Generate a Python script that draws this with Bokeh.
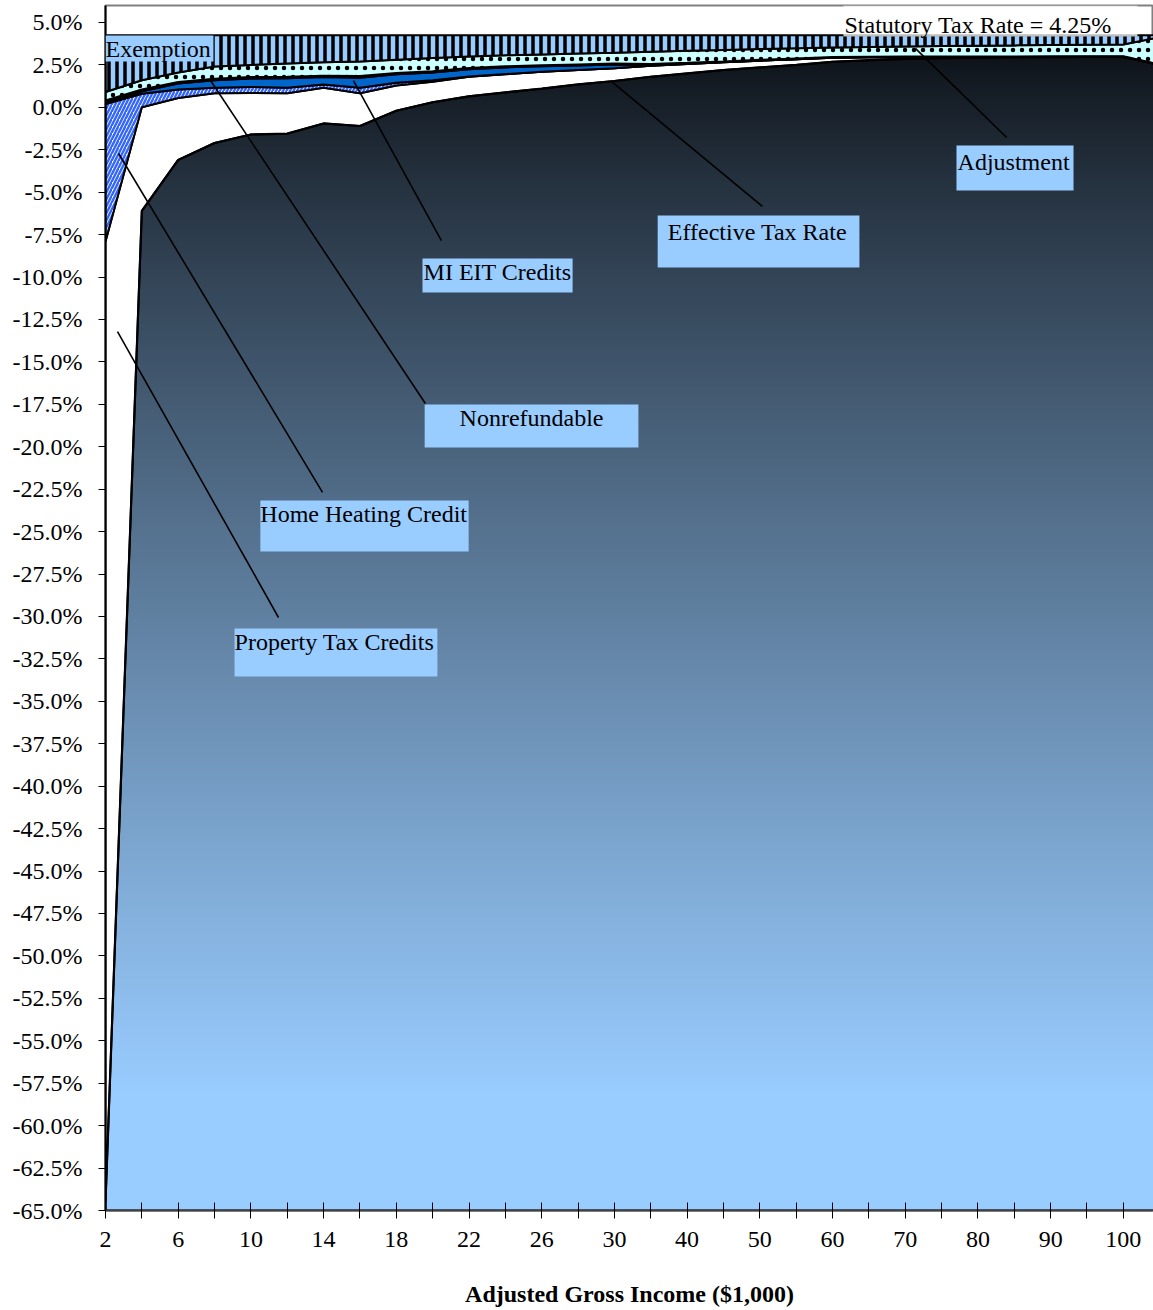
import numpy as np
from bokeh.plotting import figure
from bokeh.models import Range1d, FixedTicker, PrintfTickFormatter, Label, BoxAnnotation
from bokeh.embed import file_html
from bokeh.resources import INLINE

# ---------------- data (percent of AGI) ----------------
income = [2, 4, 6, 8, 10, 12, 14, 16, 18, 20, 22, 24, 26, 28, 30,
          35, 40, 45, 50, 55, 60, 65, 70, 75, 80, 85, 90, 95, 100, 105]
effective_rate = [-64.5, -6.1, -3.1, -2.1, -1.6, -1.55, -0.95, -1.1, -0.2, 0.3, 0.65, 0.88, 1.1, 1.35, 1.55,
                  1.8, 2.0, 2.2, 2.35, 2.5, 2.68, 2.78, 2.85, 2.9, 2.93, 2.95, 2.96, 2.97, 2.97, 2.5]
property_tax_credits = [56.6, 6.1, 3.65, 2.93, 2.45, 2.38, 2.1, 1.93, 1.49, 1.2, 1.15, 1.07, 1.0, 0.85, 0.75,
                        0.65, 0.55, 0.45, 0.4, 0.33, 0.24, 0.17, 0.1, 0.06, 0.04, 0.02, 0.02, 0.01, 0.01, 0.0]
home_heating_credit = [8.1, 0.8, 0.5, 0.32, 0.35, 0.32, 0.2, 0.32, 0.16, 0.1, 0.02, 0.01, 0, 0, 0,
                       0, 0, 0, 0, 0, 0, 0, 0, 0, 0, 0, 0, 0, 0, 0]
mi_eit_credits = [0.05, 0.15, 0.35, 0.45, 0.5, 0.57, 0.43, 0.6, 0.5, 0.45, 0.43, 0.39, 0.32, 0.27, 0.22,
                  0.05, 0.03, 0.02, 0.01, 0.01, 0.01, 0, 0, 0, 0, 0, 0, 0, 0, 0]
nonrefundable = [0.15, 0.1, 0.1, 0.08, 0.08, 0.08, 0.08, 0.1, 0.08, 0.07, 0.07, 0.07, 0.06, 0.06, 0.06,
                 0.05, 0.04, 0.03, 0.04, 0.04, 0.03, 0.03, 0.04, 0.04, 0.03, 0.03, 0.03, 0.03, 0.03, 0.02]
adjustment = [0.5, 0.55, 0.55, 0.72, 0.72, 0.78, 0.79, 0.85, 0.77, 0.78, 0.68, 0.65, 0.64, 0.64, 0.64,
              0.73, 0.71, 0.68, 0.63, 0.6, 0.56, 0.58, 0.6, 0.61, 0.63, 0.65, 0.66, 0.68, 0.69, 1.61]
exemption = [3.35, 2.65, 2.2, 1.85, 1.75, 1.67, 1.6, 1.55, 1.45, 1.35, 1.25, 1.18, 1.13, 1.08, 1.03,
             0.97, 0.92, 0.87, 0.82, 0.77, 0.73, 0.69, 0.66, 0.64, 0.62, 0.6, 0.58, 0.56, 0.55, 0.12]
STATUTORY_RATE = 4.25
visible_last = income.index(100)

AXIS_MIN, AXIS_MAX = -65.0, 6.0
FONT = "Liberation Serif"
FS = "24px"

x = np.arange(len(income), dtype=float)

p = figure(width=1153, height=1310,
           x_range=Range1d(0, 28.83), y_range=Range1d(AXIS_MIN, AXIS_MAX),
           output_backend="svg", toolbar_location=None,
           min_border_left=105, min_border_right=0, min_border_top=5, min_border_bottom=100)
p.grid.visible = False
p.outline_line_color = "#808080"
p.outline_line_width = 2
p.background_fill_color = "white"

# ---- gradient fill for the Effective Tax Rate area (drawn behind, covered above by other layers)
N = 700
ys = np.linspace(AXIS_MIN, STATUTORY_RATE, N)
dark = np.array([14, 19, 25], dtype=float)
light = np.array([153, 204, 255], dtype=float)
t = np.clip((3.0 - ys) / (3.0 - (-58.0)), 0, 1) ** 0.85
cols = dark[None, :] + (light - dark)[None, :] * t[:, None]
img = np.empty((N, 2), dtype=np.uint32)
view = img.view(dtype=np.uint8).reshape((N, 2, 4))
view[:, :, 0] = cols[:, 0:1].astype(np.uint8)
view[:, :, 1] = cols[:, 1:2].astype(np.uint8)
view[:, :, 2] = cols[:, 2:3].astype(np.uint8)
view[:, :, 3] = 255
p.image_rgba(image=[img], x=0, y=AXIS_MIN, dw=x[-1], dh=STATUTORY_RATE - AXIS_MIN)

# ---- stacked layers
layers = [
    (property_tax_credits, dict(fill_color="white")),
    (home_heating_credit, dict(fill_color="white", hatch_pattern="right_diagonal_line",
                               hatch_color="#3366FF", hatch_scale=7, hatch_weight=2.4)),
    (mi_eit_credits, dict(fill_color="#0066CC")),
    (nonrefundable, dict(fill_color="black")),
    (adjustment, dict(fill_color="#CCFFFF", hatch_pattern="dot", hatch_color="black",
                      hatch_scale=9, hatch_weight=1.2)),
    (exemption, dict(fill_color="#99CCFF", hatch_pattern="vertical_line", hatch_color="black",
                     hatch_scale=8, hatch_weight=3.5)),
]
bottom = np.array(effective_rate, dtype=float)
for vals, style in layers:
    top = bottom + np.array(vals, dtype=float)
    p.patch(x=list(x) + list(x[::-1]), y=list(top) + list(bottom[::-1]),
            line_color="black", line_width=2, **style)
    bottom = top

etr = np.array(effective_rate, dtype=float)
p.patch(x=[x[0]] + list(x) + [x[-1]], y=[AXIS_MIN] + list(etr) + [AXIS_MIN],
        fill_alpha=0, line_color="black", line_width=2.2)

# ---- axes
p.xaxis.ticker = FixedTicker(ticks=list(range(visible_last + 1)))
p.xaxis.major_label_overrides = {i: (str(income[i]) if i % 2 == 0 else "") for i in range(visible_last + 1)}
p.xaxis.minor_tick_line_color = None
p.xaxis.axis_line_color = "#404040"
p.xaxis.axis_line_width = 2
p.xaxis.major_tick_line_color = "black"
p.xaxis.major_tick_in = 8
p.xaxis.major_tick_out = 8
p.xaxis.major_label_text_font = FONT
p.xaxis.major_label_text_font_size = FS
p.xaxis.major_label_text_color = "black"
p.xaxis.major_label_standoff = 13
p.xaxis.axis_label = "Adjusted Gross Income ($1,000)"
p.xaxis.axis_label_text_font = FONT
p.xaxis.axis_label_text_font_size = FS
p.xaxis.axis_label_text_font_style = "bold"
p.xaxis.axis_label_text_color = "black"
p.xaxis.axis_label_standoff = 31

p.yaxis.ticker = FixedTicker(ticks=list(np.arange(-65.0, 5.01, 2.5)))
p.yaxis.formatter = PrintfTickFormatter(format="%.1f%%")
p.yaxis.minor_tick_line_color = None
p.yaxis.axis_line_color = "black"
p.yaxis.axis_line_width = 2
p.yaxis.major_tick_line_color = "black"
p.yaxis.major_tick_in = 0
p.yaxis.major_tick_out = 7
p.yaxis.major_label_text_font = FONT
p.yaxis.major_label_text_font_size = FS
p.yaxis.major_label_text_color = "black"
p.yaxis.major_label_standoff = 16

# ---- leader lines (data coordinates)
leaders = [  # (x0, y0, x1, y1)
    (4.76, -30.06, 0.33, -13.21),   # Property Tax Credits
    (5.97, -22.69, 0.36, -2.72),    # Home Heating Credit
    (8.80, -17.45, 2.89, 1.58),     # Nonrefundable
    (9.24, -7.85, 6.82, 1.58),      # MI EIT Credits
    (18.07, -5.84, 13.95, 1.47),    # Effective Tax Rate
    (24.79, -1.78, 22.28, 3.47),    # Adjustment
]
p.segment(x0=[l[0] for l in leaders], y0=[l[1] for l in leaders],
          x1=[l[2] for l in leaders], y1=[l[3] for l in leaders],
          line_color="black", line_width=1.6)

# ---- callout boxes and texts: (text, left, right, top, bottom, text_x, text_y, fill, alpha)
callouts = [
    ("Exemption", 0.0, 2.97, 4.23, 2.70, 0.0, 3.41, "#99CCFF", 1.0),
    ("Statutory Tax Rate = 4.25%", 20.30, 28.39, AXIS_MAX, 4.18, 20.33, 4.88, "white", 0.75),
    ("Adjustment", 23.41, 26.63, -2.25, -4.90, 23.44, -3.25, "#99CCFF", 1.0),
    ("Effective Tax Rate", 15.19, 20.74, -6.37, -9.44, 15.47, -7.32, "#99CCFF", 1.0),
    ("MI EIT Credits", 8.72, 12.85, -8.91, -10.91, 8.75, -9.73, "#99CCFF", 1.0),
    ("Nonrefundable", 8.78, 14.66, -17.51, -20.04, 9.74, -18.28, "#99CCFF", 1.0),
    ("Home Heating Credit", 4.26, 9.99, -23.17, -26.17, 4.26, -23.99, "#99CCFF", 1.0),
    ("Property Tax Credits", 3.55, 9.13, -30.71, -33.54, 3.55, -31.53, "#99CCFF", 1.0),
]
for text, l, r, tp, bt, tx, ty, fc, fa in callouts:
    p.add_layout(BoxAnnotation(left=l, right=r, top=tp, bottom=bt, fill_color=fc,
                               fill_alpha=fa, line_color=None))
for text, l, r, tp, bt, tx, ty, fc, fa in callouts:
    p.add_layout(Label(x=tx, y=ty, text=text, text_font=FONT, text_font_size=FS,
                       text_color="black", text_baseline="alphabetic", text_align="left"))

open("out.html", "w").write(file_html(p, INLINE))
